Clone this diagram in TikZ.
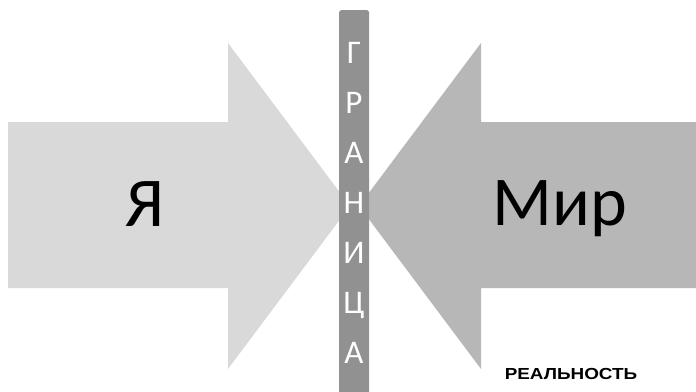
\documentclass[tikz,border=0pt]{standalone}
\usepackage{fontspec}
\setmainfont{Carlito}
\newfontfamily\arialb{Liberation Sans}
\definecolor{leftgray}{HTML}{D9D9D9}
\definecolor{rightgray}{HTML}{B7B7B7}
\definecolor{bargray}{HTML}{919191}
\begin{document}
\begin{tikzpicture}[x=1pt,y=-1pt,
  bigtext/.style={font=\fontsize{70}{80}\selectfont, anchor=base, inner sep=0pt},
  barletter/.style={font=\fontsize{33}{36}\selectfont, text=white, anchor=base, inner sep=0pt},
  note/.style={font=\arialb\bfseries\fontsize{16}{18}\selectfont, anchor=base, inner sep=0pt, xscale=1.18}]
\useasboundingbox (0,0) rectangle (696,391);
% left arrow
\fill[leftgray] (8,122) -- (228,122) -- (228,43) -- (350,206) -- (228,369) -- (228,288) -- (8,288) -- cycle;
% right arrow
\fill[rightgray] (696,122) -- (481,122) -- (481,43) -- (359,206) -- (481,369) -- (481,288) -- (696,288) -- cycle;
% bar
\fill[bargray] (339,400) -- (339,12) to[out=-90,in=180] (341,10) -- (367,10) to[out=0,in=-90] (369,12) -- (369,400) -- cycle;
\node[bigtext] (ya) at (145,226) {Я};
\node[bigtext] (mir) at (560,225) {Мир};
\node[barletter] (b1) at (354,63) {Г};
\node[barletter] (b2) at (354,113) {Р};
\node[barletter] (b3) at (354,163) {А};
\node[barletter] (b4) at (354,213) {Н};
\node[barletter] (b5) at (354,263) {И};
\node[barletter] (b6) at (354,313) {Ц};
\node[barletter] (b7) at (354,363) {А};
\node[note] (real) at (571,379) {РЕАЛЬНОСТЬ};
\end{tikzpicture}
\end{document}
